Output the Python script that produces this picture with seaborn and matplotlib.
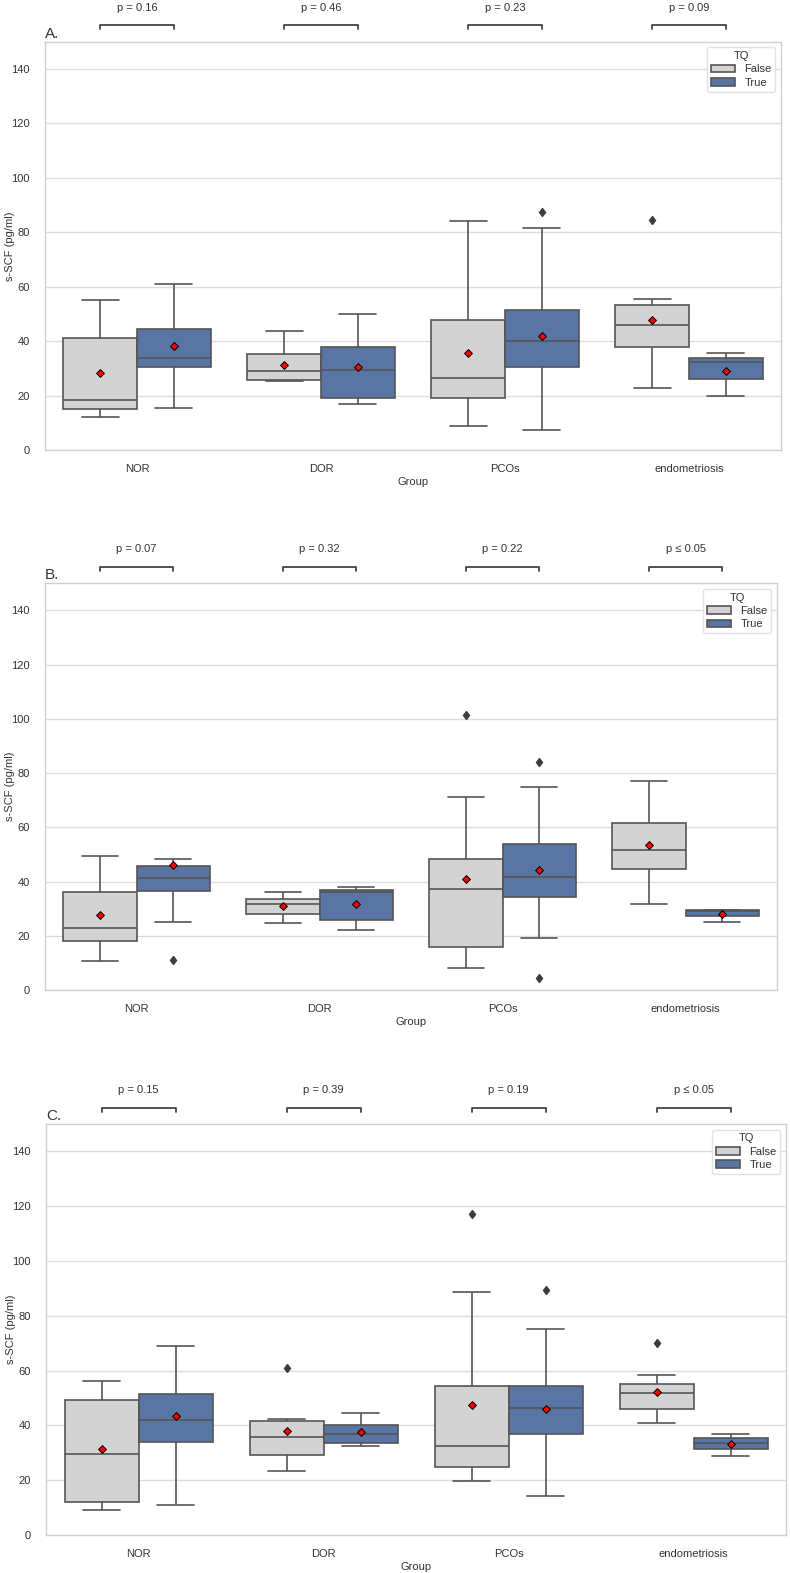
import numpy as np
import pandas as pd
import matplotlib
matplotlib.use("Agg")
import matplotlib.pyplot as plt
import matplotlib.transforms as mtransforms
import seaborn as sns

# ---------------- data ----------------
groups = ["NOR", "DOR", "PCOs", "endometriosis"]
tq_levels = ["False", "True"]
panel_labels = ["A.", "B.", "C."]

# observations per group (NOR, DOR, PCOs, endometriosis)
A_false = [[12.0, 15.2, 18.3, 41.0, 55.0],
           [25.2, 25.6, 29.0, 35.1, 43.7],
           [8.9, 19.2, 26.5, 47.7, 84.3],
           [22.6, 37.9, 37.9, 46.1, 46.1, 53.2, 53.2, 55.3, 84.6]]
A_true = [[15.3, 30.5, 33.9, 44.3, 60.9],
          [16.8, 19.0, 29.4, 37.8, 50.1],
          [7.2, 30.5, 30.5, 40.0, 40.0, 51.6, 51.6, 81.6, 87.3],
          [19.8, 26.2, 32.4, 33.9, 35.5]]
A_mean_false = [28.4, 31.4, 35.5, 47.9]
A_mean_true = [38.2, 30.6, 41.8, 29.2]
A_pvals = ["p = 0.16", "p = 0.46", "p = 0.23", "p = 0.09"]

B_false = [[10.7, 18.2, 23.0, 36.3, 49.4],
           [24.6, 28.1, 31.7, 33.4, 36.2],
           [8.0, 16.0, 16.0, 37.1, 37.1, 48.4, 48.4, 71.1, 101.3],
           [31.8, 44.8, 51.5, 61.6, 77.0]]
B_true = [[11.1, 25.2, 36.6, 36.6, 41.4, 41.4, 45.9, 45.9, 48.5],
          [22.0, 25.7, 36.0, 36.8, 38.1],
          [4.6, 19.0, 34.4, 41.8, 41.8, 41.8, 53.9, 74.8, 84.2],
          [24.9, 27.3, 29.3, 29.5, 29.5]]
B_mean_false = [27.6, 30.9, 40.9, 53.3]
B_mean_true = [46.2, 31.7, 44.1, 28.0]
B_pvals = ["p = 0.07", "p = 0.32", "p = 0.22", "p \u2264 0.05"]

C_false = [[9.1, 12.0, 29.5, 49.2, 56.2],
           [23.5, 29.3, 29.3, 35.7, 35.7, 41.6, 41.6, 42.5, 61.0],
           [19.7, 24.8, 24.8, 32.3, 32.3, 54.3, 54.3, 88.8, 117.0],
           [41.0, 46.1, 46.1, 51.7, 51.7, 55.1, 55.1, 58.4, 70.0]]
C_true = [[11.1, 34.1, 42.0, 51.4, 68.8],
          [32.3, 33.7, 36.9, 40.3, 44.7],
          [14.4, 36.9, 36.9, 46.5, 46.5, 54.5, 54.5, 75.1, 89.5],
          [29.0, 31.5, 33.7, 35.4, 36.9]]
C_mean_false = [31.3, 37.8, 47.6, 52.2]
C_mean_true = [43.3, 37.5, 46.1, 33.3]
C_pvals = ["p = 0.15", "p = 0.39", "p = 0.19", "p \u2264 0.05"]

yticks = [0, 20, 40, 60, 80, 100, 120, 140]
ylabel = "s-SCF (pg/ml)"
xlabel = "Group"

# ---------------- style ----------------
sns.set_theme(style="whitegrid")
plt.rcParams["font.family"] = ["Liberation Sans", "DejaVu Sans"]
text_color = "#333333"

palette = {"False": "lightgray", "True": "#4c72b0"}
line_color = "#555555"
fs = 8

W, H = 790, 1573
fig = plt.figure(figsize=(W / 100, H / 100), dpi=100)

# axes boxes in pixels: left, right, top, bottom
boxes_px = [(45, 781, 41.7, 450), (45, 777, 583.3, 990), (46, 786, 1124, 1535)]


def long_frame(false_lists, true_lists):
    rows = []
    for g, fv, tv in zip(groups, false_lists, true_lists):
        rows += [(g, "False", v) for v in fv]
        rows += [(g, "True", v) for v in tv]
    return pd.DataFrame(rows, columns=["Group", "TQ", ylabel])


def mean_frame(mf, mt):
    rows = []
    for g, a, b in zip(groups, mf, mt):
        rows.append((g, "False", a))
        rows.append((g, "True", b))
    return pd.DataFrame(rows, columns=["Group", "TQ", ylabel])


panels = [
    (A_false, A_true, A_mean_false, A_mean_true, A_pvals),
    (B_false, B_true, B_mean_false, B_mean_true, B_pvals),
    (C_false, C_true, C_mean_false, C_mean_true, C_pvals),
]

for k, ((fl, tl, mf, mt, pv), (l, r, t, b)) in enumerate(zip(panels, boxes_px)):
    ax = fig.add_axes([l / W, 1 - b / H, (r - l) / W, (b - t) / H])
    df = long_frame(fl, tl)
    sns.boxplot(data=df, x="Group", y=ylabel, hue="TQ", order=groups,
                hue_order=tq_levels, palette=palette, saturation=0.75,
                linecolor=line_color, linewidth=1.2, width=0.8, ax=ax,
                flierprops=dict(marker="d", markerfacecolor="#3c3c3c",
                                markeredgecolor="#3c3c3c", markersize=4.5))
    md = mean_frame(mf, mt)
    sns.stripplot(data=md, x="Group", y=ylabel, hue="TQ", order=groups,
                  hue_order=tq_levels, dodge=True, jitter=False,
                  palette={"False": "red", "True": "red"}, marker="D",
                  size=4, edgecolor="black", linewidth=0.7, legend=False,
                  ax=ax, zorder=5)
    ax.set_ylim(0, 150)
    ax.set_xlim(-0.5, 3.5)
    ax.set_yticks(yticks)
    ax.tick_params(axis="y", labelsize=fs, colors=text_color, pad=5)
    ax.tick_params(axis="x", labelsize=fs, colors=text_color, pad=4)
    ax.xaxis.grid(False)
    ax.yaxis.grid(True, linewidth=1.0, color="#dddddd")
    ax.set_ylabel(ylabel, fontsize=fs, color=text_color)
    ax.set_xlabel(xlabel, fontsize=fs, color=text_color, labelpad=2)
    ax.yaxis.set_label_coords(-30.0 / (r - l), 0.5)
    for s in ax.spines.values():
        s.set_color("#d0d0d0")
        s.set_linewidth(1.0)
    ax.set_title(panel_labels[k], loc="left", fontsize=11, color=text_color, pad=3)

    leg = ax.legend(title="TQ", loc="upper right", fontsize=fs, title_fontsize=fs,
                    frameon=True, handlelength=2.2, borderpad=0.35,
                    labelspacing=0.3, handletextpad=0.8)
    leg.get_frame().set_edgecolor("#dddddd")
    for txt in leg.get_texts():
        txt.set_color(text_color)
    leg.get_title().set_color(text_color)

    trans = mtransforms.blended_transform_factory(ax.transData, ax.transAxes)
    ah = b - t
    y_line = 1 + 16.5 / ah
    y_tick = 1 + 12.5 / ah
    y_text = 1 + 34.0 / ah
    for i, p in enumerate(pv):
        x0, x1 = i - 0.2, i + 0.2
        ax.plot([x0, x0, x1, x1], [y_tick, y_line, y_line, y_tick],
                transform=trans, color="#444444", linewidth=1.3, clip_on=False)
        ax.text(i, y_text, p, transform=trans, ha="center", va="center",
                fontsize=fs, color=text_color)

fig.savefig("out.png", dpi=100)
